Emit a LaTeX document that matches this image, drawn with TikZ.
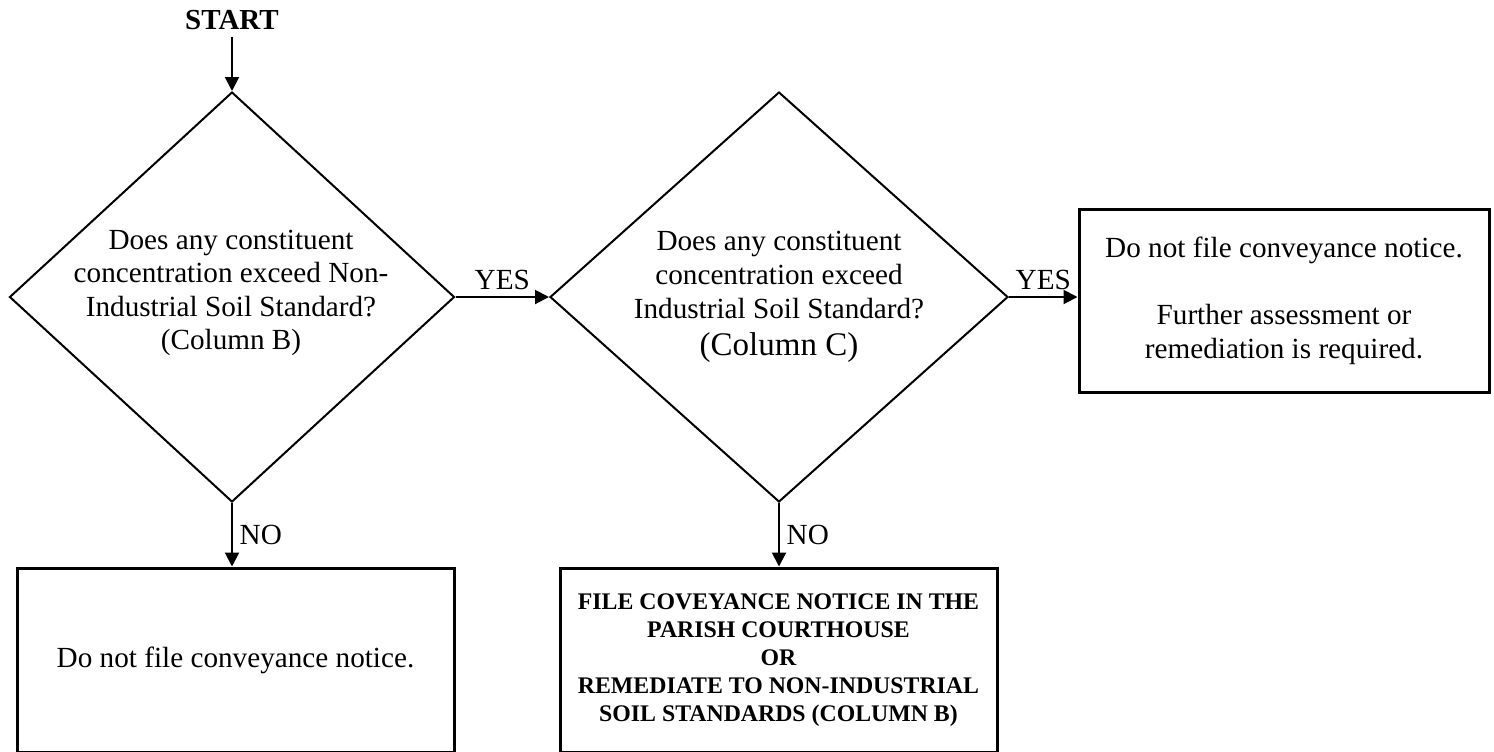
\documentclass[tikz,border=0pt]{standalone}
\usepackage{fontspec}
\setmainfont{Liberation Serif}
\usetikzlibrary{shapes.geometric,arrows.meta}

\def\unite{0.5pt}
\def\taille{14.6}
\def\interligne{16.8}

\begin{document}
\begin{tikzpicture}[x=\unite,y=-\unite]
\tikzstyle{losange}=[draw,diamond,line width=1pt,inner sep=0pt]
\tikzstyle{boite}=[draw,rectangle,line width=1.5pt,inner sep=0pt,align=center]
\tikzstyle{texte}=[align=center,font=\fontsize{\taille}{\interligne}\selectfont]
\tikzstyle{etiquette}=[font=\fontsize{\taille}{\interligne}\selectfont]
\tikzstyle{fleche}=[line width=1pt,-{Triangle[length=7pt,width=7pt]}]

\useasboundingbox (0,0) rectangle (1494,751);

\node[font=\fontsize{14.5}{17}\selectfont\bfseries] (debut) at (232,20) {START};

% les deux questions
\node[losange,minimum width=445*\unite,minimum height=410*\unite] (q1) at (232,297) {};
\node[texte] (t1) at (231,293) {Does any constituent\\concentration exceed Non-\\Industrial Soil Standard?\\(Column B)};

\node[losange,minimum width=458*\unite,minimum height=410*\unite] (q2) at (779,297) {};
\node[texte] (t2) at (779,297) {Does any constituent\\concentration exceed\\Industrial Soil Standard?\\[1.8pt]{\fontsize{16.5}{19}\selectfont(Column C)}};

% les reponses
\node[boite,font=\fontsize{\taille}{\interligne}\selectfont,minimum width=410*\unite,minimum height=183*\unite] (r3) at (1284,300.5)
  {Do not file conveyance notice.\\[\interligne pt]Further assessment or\\remediation is required.};

\node[boite,font=\fontsize{\taille}{\interligne}\selectfont,minimum width=437*\unite,minimum height=184*\unite] (r1) at (235.5,660)
  {Do not file conveyance notice.};

\node[boite,font=\fontsize{11.9}{14}\selectfont\bfseries,minimum width=437*\unite,minimum height=184*\unite] (r2) at (778.5,660)
  {FILE COVEYANCE NOTICE IN THE\\PARISH COURTHOUSE\\OR\\REMEDIATE TO NON-INDUSTRIAL\\SOIL STANDARDS (COLUMN B)};

% fleches
\draw[fleche] (debut) -- (q1.north);
\draw[fleche] (q1.east) -- node[etiquette,above] (oui1) {YES} (q2.west);
\draw[fleche] (q2.east) -- node[etiquette,above] (oui2) {YES} (q2.east -| r3.west);
\draw[fleche] (q1.south) -- node[etiquette,right] (non1) {NO} (q1.south |- r1.north);
\draw[fleche] (q2.south) -- node[etiquette,right] (non2) {NO} (q2.south |- r2.north);

\end{tikzpicture}
\end{document}
